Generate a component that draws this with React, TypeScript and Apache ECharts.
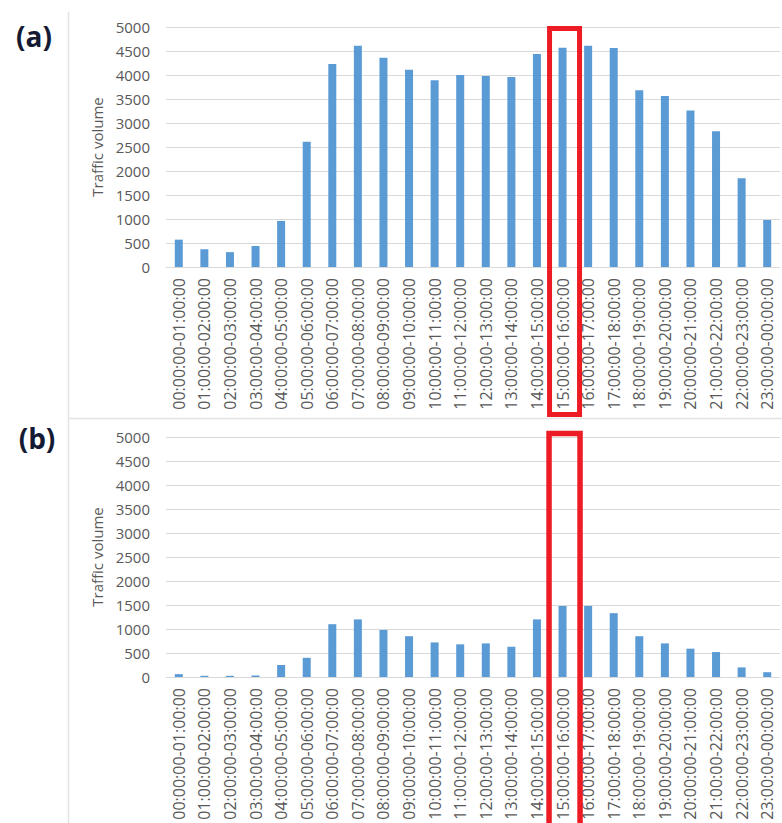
import React, { useEffect, useRef } from "react";
import * as echarts from "echarts";

// Hourly time slots
const hours: string[] = [
  "00:00:00-01:00:00", "01:00:00-02:00:00", "02:00:00-03:00:00", "03:00:00-04:00:00",
  "04:00:00-05:00:00", "05:00:00-06:00:00", "06:00:00-07:00:00", "07:00:00-08:00:00",
  "08:00:00-09:00:00", "09:00:00-10:00:00", "10:00:00-11:00:00", "11:00:00-12:00:00",
  "12:00:00-13:00:00", "13:00:00-14:00:00", "14:00:00-15:00:00", "15:00:00-16:00:00",
  "16:00:00-17:00:00", "17:00:00-18:00:00", "18:00:00-19:00:00", "19:00:00-20:00:00",
  "20:00:00-21:00:00", "21:00:00-22:00:00", "22:00:00-23:00:00", "23:00:00-00:00:00",
];

// Panel (a) traffic volume per hour
const volumeA: number[] = [
  570, 370, 310, 440, 960, 2610, 4230, 4610, 4360, 4110, 3890, 4000,
  3980, 3960, 4440, 4570, 4610, 4560, 3680, 3560, 3260, 2830, 1850, 980,
];

// Panel (b) traffic volume per hour
const volumeB: number[] = [
  60, 25, 25, 30, 250, 400, 1100, 1200, 980, 850, 720, 680,
  700, 630, 1200, 1480, 1480, 1330, 850, 700, 590, 520, 200, 100,
];

const yTicks: number[] = [0, 500, 1000, 1500, 2000, 2500, 3000, 3500, 4000, 4500, 5000];
const highlightedSlot = "15:00:00-16:00:00";
const panelLetters: string[] = ["(a)", "(b)"];

const BAR = "#5B9BD5";
const GRID = "#D9D9D9";
const TEXT = "#595959";
const RED = "#ED1C24";
const FONT = "'Open Sans', 'DejaVu Sans', sans-serif";

export default function App() {
  const ref = useRef<HTMLDivElement>(null);

  useEffect(() => {
    if (!ref.current) return;
    const chart = echarts.init(ref.current, undefined, { renderer: "svg" });

    const grids = [
      { left: 166, width: 614, top: 27, height: 240 },
      { left: 166, width: 614, top: 437, height: 240 },
    ];

    const xAxes = grids.map((_, i) => ({
      type: "category" as const,
      gridIndex: i,
      data: hours,
      boundaryGap: true,
      axisLine: { show: true, lineStyle: { color: GRID, width: 1 } },
      axisTick: { show: false },
      axisLabel: {
        rotate: 90,
        interval: 0,
        margin: 11,
        color: TEXT,
        fontFamily: FONT,
        fontSize: 16,
      },
    }));

    const yAxes = grids.map((_, i) => ({
      type: "value" as const,
      gridIndex: i,
      min: yTicks[0],
      max: yTicks[yTicks.length - 1],
      interval: yTicks[1] - yTicks[0],
      name: "Traffic volume",
      nameLocation: "middle" as const,
      nameRotate: 90,
      nameGap: 59,
      nameTextStyle: { color: TEXT, fontFamily: FONT, fontSize: 15 },
      axisLine: { show: false },
      axisTick: { show: false },
      axisLabel: {
        color: TEXT,
        fontFamily: FONT,
        fontSize: 15,
        margin: 16,
        formatter: (v: number) => String(v),
      },
      splitLine: { show: true, lineStyle: { color: GRID, width: 1 } },
    }));

    const series = [volumeA, volumeB].map((vals, i) => ({
      type: "bar" as const,
      xAxisIndex: i,
      yAxisIndex: i,
      data: vals,
      barWidth: 8,
      itemStyle: { color: BAR },
    }));

    chart.setOption({
      animation: false,
      backgroundColor: "#ffffff",
      grid: grids,
      xAxis: xAxes,
      yAxis: yAxes,
      series,
    });

    // Red outline around the highlighted hour, centered on its category
    const cxA = chart.convertToPixel({ xAxisIndex: 0 }, highlightedSlot) as number;
    const cxB = chart.convertToPixel({ xAxisIndex: 1 }, highlightedSlot) as number;

    chart.setOption({
      graphic: [
        {
          type: "line",
          shape: { x1: 68.5, y1: 12, x2: 68.5, y2: 823 },
          style: { stroke: "#E3E3E3", lineWidth: 1.5 },
          silent: true,
        },
        {
          type: "line",
          shape: { x1: 68, y1: 418.5, x2: 782, y2: 418.5 },
          style: { stroke: "#E3E3E3", lineWidth: 1.5 },
          silent: true,
        },
        {
          type: "text",
          x: 34,
          y: 36,
          style: {
            text: panelLetters[0],
            fill: "#141a33",
            font: "bold 28px 'Open Sans', 'DejaVu Sans', sans-serif",
            align: "center",
            verticalAlign: "middle",
          },
        },
        {
          type: "text",
          x: 37,
          y: 438,
          style: {
            text: panelLetters[1],
            fill: "#141a33",
            font: "bold 28px 'Open Sans', 'DejaVu Sans', sans-serif",
            align: "center",
            verticalAlign: "middle",
          },
        },
        {
          type: "rect",
          shape: { x: cxA + 2 - 15, y: 28.5, width: 30, height: 386 },
          style: { stroke: RED, lineWidth: 5, fill: "none" },
          z: 100,
        },
        {
          type: "rect",
          shape: { x: cxB + 2 - 15.5, y: 433.5, width: 31, height: 400 },
          style: { stroke: RED, lineWidth: 5.5, fill: "none" },
          z: 100,
        },
      ],
    });

    return () => chart.dispose();
  }, []);

  return (
    <div
      ref={ref}
      style={{ position: "absolute", left: 0, top: 0, width: 782, height: 823, background: "#fff" }}
    />
  );
}
